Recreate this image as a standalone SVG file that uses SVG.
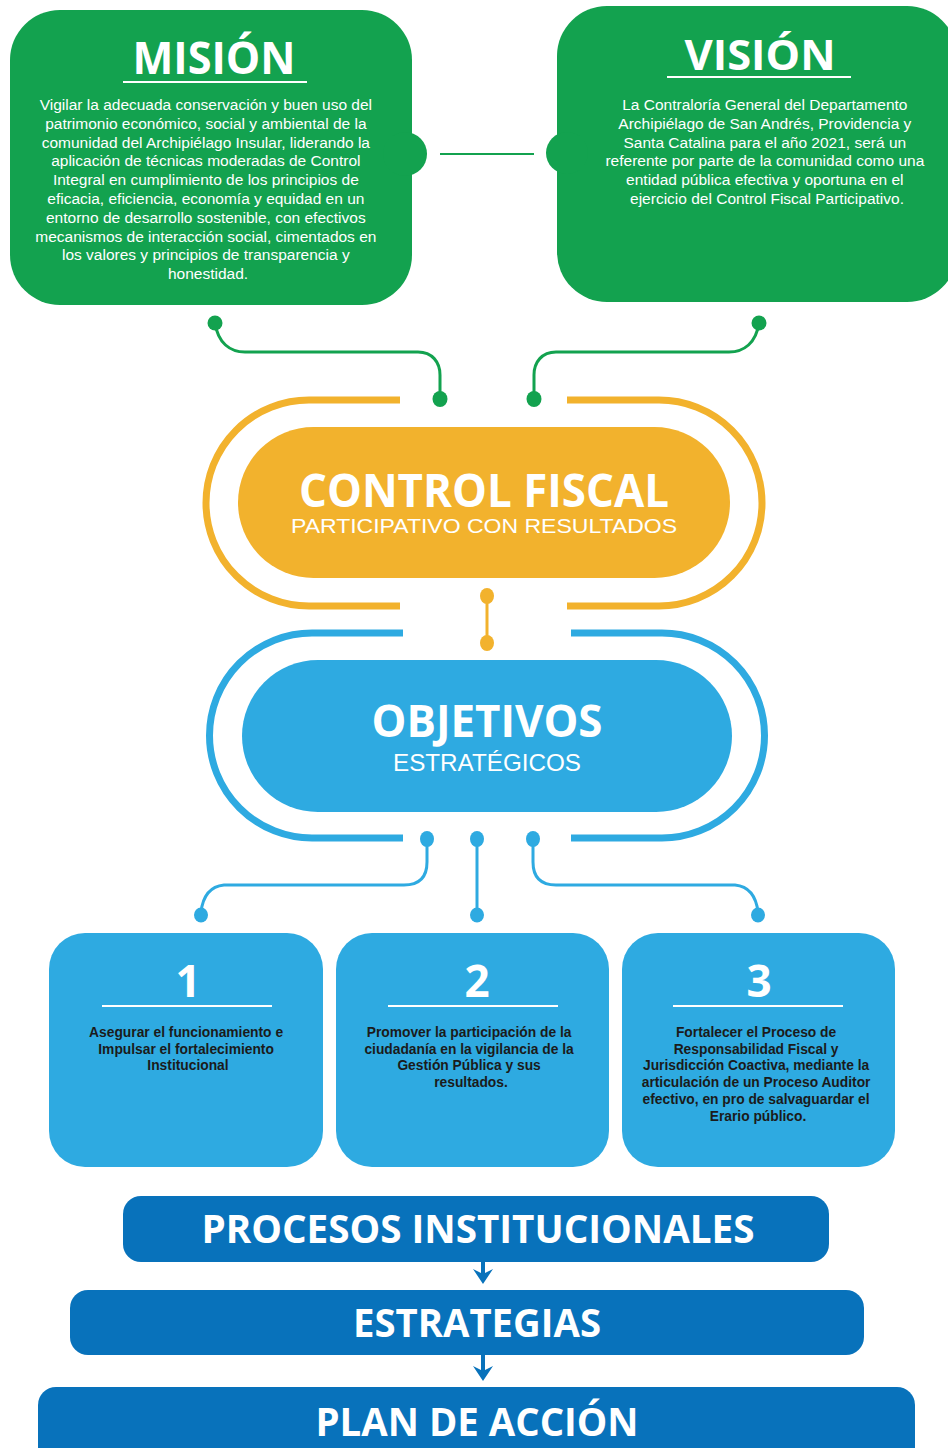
<svg xmlns="http://www.w3.org/2000/svg" width="948" height="1448" viewBox="0 0 948 1448">
<defs>
<style>
.green{fill:#13A24F}
.yellow{fill:#F2B22D}
.lblue{fill:#2EAAE1}
.dblue{fill:#0872BB}
.title{font-family:"Open Sans","DejaVu Sans",sans-serif;font-weight:700;fill:#fff;text-anchor:middle}
.body{font-family:"Liberation Sans",Arial,sans-serif;font-size:15.5px;fill:#fff;text-anchor:middle}
.sub{font-family:"Liberation Sans",Arial,sans-serif;fill:#fff;text-anchor:middle}
.obj{font-family:"Liberation Sans",Arial,sans-serif;font-weight:700;font-size:13.8px;fill:#1b1b1b;text-anchor:middle}
.uline{stroke:#fff;stroke-width:2;fill:none}
.gline{stroke:#13A24F;stroke-width:3;fill:none}
.yring{stroke:#F2B22D;stroke-width:7;fill:none}
.bring{stroke:#2EAAE1;stroke-width:7;fill:none}
.bline{stroke:#2EAAE1;stroke-width:3;fill:none}
.yline{stroke:#F2B22D;stroke-width:3;fill:none}
.arrow{stroke:#0872BB;stroke-width:4;fill:none}
</style>
<marker id="ah" viewBox="0 0 15 20" refX="8" refY="10" markerWidth="15" markerHeight="20" orient="auto" markerUnits="userSpaceOnUse">
<path d="M0,0 L15,10 L0,20 L5,10 Z" fill="#0872BB"/>
</marker>
</defs>

<g id="mision">
<rect class="green" x="10" y="10" width="402" height="295" rx="50"/>
<circle class="green" cx="405" cy="154" r="22"/>
<text class="title" x="214" y="74" font-size="44" textLength="163" lengthAdjust="spacingAndGlyphs">MISIÓN</text>
<line class="uline" x1="123" y1="82" x2="307" y2="82"/>
<text class="body">
<tspan x="208" y="110">Vigilar la adecuada conservación y buen uso del</tspan>
<tspan x="208" y="128.8">patrimonio económico, social y ambiental de la</tspan>
<tspan x="208" y="147.6">comunidad del Archipiélago Insular, liderando la</tspan>
<tspan x="208" y="166.4">aplicación de técnicas moderadas de Control</tspan>
<tspan x="208" y="185.2">Integral en cumplimiento de los principios de</tspan>
<tspan x="208" y="204">eficacia, eficiencia, economía y equidad en un</tspan>
<tspan x="208" y="222.8">entorno de desarrollo sostenible, con efectivos</tspan>
<tspan x="208" y="241.6">mecanismos de interacción social, cimentados en</tspan>
<tspan x="208" y="260.4">los valores y principios de transparencia y</tspan>
<tspan x="208" y="279.2">honestidad.</tspan>
</text>
</g>

<g id="vision">
<rect class="green" x="557" y="6" width="400" height="296" rx="50"/>
<circle class="green" cx="567" cy="153" r="21"/>
<text class="title" x="760" y="70" font-size="42" textLength="151" lengthAdjust="spacingAndGlyphs">VISIÓN</text>
<line class="uline" x1="667" y1="77" x2="851" y2="77"/>
<text class="body">
<tspan x="767" y="110">La Contraloría General del Departamento</tspan>
<tspan x="767" y="128.8">Archipiélago de San Andrés, Providencia y</tspan>
<tspan x="767" y="147.6">Santa Catalina para el año 2021, será un</tspan>
<tspan x="767" y="166.4">referente por parte de la comunidad como una</tspan>
<tspan x="767" y="185.2">entidad pública efectiva y oportuna en el</tspan>
<tspan x="767" y="204">ejercicio del Control Fiscal Participativo.</tspan>
</text>
</g>

<g id="control-fiscal">
<path class="yring" d="M400,400 H309 A103,103 0 0 0 309,606 H400"/>
<path class="yring" d="M567,400 H659 A103,103 0 0 1 659,606 H567"/>
<rect class="yellow" x="238" y="427" width="492" height="151" rx="75.5"/>
<text class="title" x="484" y="507" font-size="46" textLength="370" lengthAdjust="spacingAndGlyphs">CONTROL FISCAL</text>
<text class="sub" x="484" y="533" font-size="21" textLength="386" lengthAdjust="spacingAndGlyphs">PARTICIPATIVO CON RESULTADOS</text>
</g>

<g id="objetivos">
<path class="bring" d="M403,633 H312 A102.5,102.5 0 0 0 312,838 H403"/>
<path class="bring" d="M571,633 H662 A102.5,102.5 0 0 1 662,838 H571"/>
<rect class="lblue" x="242" y="660" width="490" height="152" rx="76"/>
<text class="title" x="487" y="737" font-size="45" textLength="231" lengthAdjust="spacingAndGlyphs">OBJETIVOS</text>
<text class="sub" x="487" y="771" font-size="24" textLength="188" lengthAdjust="spacingAndGlyphs">ESTRATÉGICOS</text>
</g>

<g id="connectors">
<line x1="440" y1="154" x2="534" y2="154" stroke="#13A24F" stroke-width="2"/>
<path class="gline" d="M215,323 C218,343 230,352 245,352 H418 C432,352 440,362 440,375 V398"/>
<path class="gline" d="M759,323 C756,343 744,352 729,352 H556 C542,352 534,362 534,375 V398"/>
<circle class="green" cx="215" cy="323" r="7.5"/>
<circle class="green" cx="759" cy="323" r="7.5"/>
<ellipse class="green" cx="440" cy="399" rx="7.5" ry="8"/>
<ellipse class="green" cx="534" cy="399" rx="7.5" ry="8"/>
<line class="yline" x1="487" y1="596" x2="487" y2="643"/>
<ellipse class="yellow" cx="487" cy="596" rx="7" ry="8"/>
<ellipse class="yellow" cx="487" cy="643" rx="7" ry="8"/>
<path class="bline" d="M427,842 V862 Q427,885 404,885 H224 Q204,887 201,912"/>
<line class="bline" x1="477" y1="840" x2="477" y2="914"/>
<path class="bline" d="M533,842 V862 Q533,885 556,885 H735 Q755,887 758,912"/>
<ellipse class="lblue" cx="427" cy="839" rx="7" ry="8"/>
<ellipse class="lblue" cx="477" cy="839" rx="7" ry="8"/>
<ellipse class="lblue" cx="533" cy="839" rx="7" ry="8"/>
<ellipse class="lblue" cx="201" cy="915" rx="7" ry="7.5"/>
<ellipse class="lblue" cx="477" cy="915" rx="7" ry="7.5"/>
<ellipse class="lblue" cx="758" cy="915" rx="7" ry="7.5"/>
<path class="arrow" d="M483,1261 V1277" marker-end="url(#ah)"/>
<path class="arrow" d="M483,1354 V1374" marker-end="url(#ah)"/>
</g>

<g id="objetivo-1">
<rect class="lblue" x="49" y="933" width="274" height="234" rx="36"/>
<text class="title" x="188" y="997" font-size="44">1</text>
<line class="uline" x1="102" y1="1006" x2="272" y2="1006"/>
<text class="obj">
<tspan x="188" y="1037">Asegurar el funcionamiento e</tspan>
<tspan x="188" y="1053.7">Impulsar el fortalecimiento</tspan>
<tspan x="188" y="1070.4">Institucional</tspan>
</text>
</g>

<g id="objetivo-2">
<rect class="lblue" x="336" y="933" width="273" height="234" rx="36"/>
<text class="title" x="477" y="997" font-size="44">2</text>
<line class="uline" x1="388" y1="1006" x2="558" y2="1006"/>
<text class="obj">
<tspan x="471" y="1037">Promover la participación de la</tspan>
<tspan x="471" y="1053.7">ciudadanía en la vigilancia de la</tspan>
<tspan x="471" y="1070.4">Gestión Pública y sus</tspan>
<tspan x="471" y="1087.1">resultados.</tspan>
</text>
</g>

<g id="objetivo-3">
<rect class="lblue" x="622" y="933" width="273" height="234" rx="36"/>
<text class="title" x="759" y="997" font-size="44">3</text>
<line class="uline" x1="673" y1="1006" x2="843" y2="1006"/>
<text class="obj">
<tspan x="758" y="1037">Fortalecer el Proceso de</tspan>
<tspan x="758" y="1053.7">Responsabilidad Fiscal y</tspan>
<tspan x="758" y="1070.4">Jurisdicción Coactiva, mediante la</tspan>
<tspan x="758" y="1087.1">articulación de un Proceso Auditor</tspan>
<tspan x="758" y="1103.8">efectivo, en pro de salvaguardar el</tspan>
<tspan x="758" y="1120.5">Erario público.</tspan>
</text>
</g>

<g id="procesos">
<rect class="dblue" x="123" y="1196" width="706" height="66" rx="18"/>
<text class="title" x="478" y="1243" font-size="40" textLength="553" lengthAdjust="spacingAndGlyphs">PROCESOS INSTITUCIONALES</text>
</g>

<g id="estrategias">
<rect class="dblue" x="70" y="1290" width="794" height="65" rx="18"/>
<text class="title" x="477" y="1337" font-size="40" textLength="248" lengthAdjust="spacingAndGlyphs">ESTRATEGIAS</text>
</g>

<g id="plan">
<rect class="dblue" x="38" y="1387" width="877" height="80" rx="18"/>
<text class="title" x="477" y="1436" font-size="40" textLength="323" lengthAdjust="spacingAndGlyphs">PLAN DE ACCIÓN</text>
</g>
</svg>
